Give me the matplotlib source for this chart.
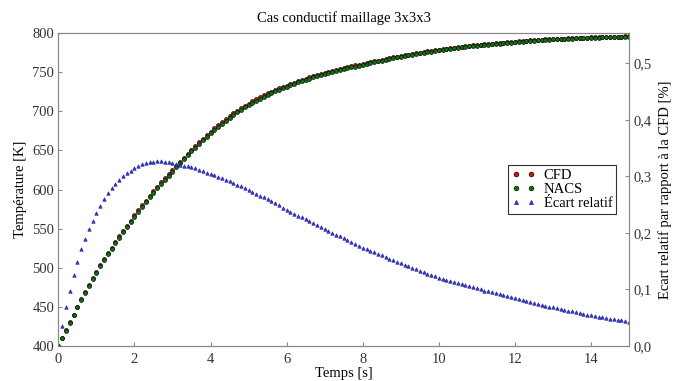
import matplotlib.pyplot as plt
import numpy as np

plt.rcParams['font.family'] = ['Liberation Serif', 'DejaVu Serif']
plt.rcParams['font.size'] = 10.5

# Temps [s], pas de 0,1 s
temps = np.linspace(0, 15, 151)

# Temperature CFD [K]
cfd = [400, 410, 420, 430, 440, 450,
       459.5, 468.5, 477.5, 486.5, 495,
       503, 510.8, 518.5, 525.8, 533,
       540, 546.8, 553.5, 560, 567,
       573.4, 579.7, 585.9, 592, 598,
       603.6, 609.1, 614.5, 619.8, 625,
       630.2, 635.4, 640.6, 645.8, 651,
       655.8, 660.6, 665.2, 669.7, 674,
       678.2, 682.3, 686.3, 690.2, 694,
       697.5, 700.8, 704, 707.1, 710,
       712.8, 715.5, 718.1, 720.6, 723,
       725.2, 727.3, 729.3, 731.2, 733,
       734.9, 736.8, 738.6, 740.3, 742,
       743.5, 744.9, 746.3, 747.7, 749,
       750.3, 751.6, 752.8, 754, 755.2,
       756.4, 757.6, 758.7, 759.8, 761,
       762, 763, 764, 765, 766,
       767, 768, 769, 770, 771,
       771.8, 772.6, 773.4, 774.2, 775,
       775.8, 776.6, 777.4, 778.2, 779,
       779.6, 780.2, 780.8, 781.4, 782,
       782.6, 783.2, 783.8, 784.4, 785,
       785.4, 785.8, 786.2, 786.6, 787,
       787.4, 787.8, 788.2, 788.6, 789,
       789.4, 789.8, 790.2, 790.6, 791,
       791.3, 791.6, 791.9, 792.2, 792.5,
       792.7, 792.9, 793.1, 793.3, 793.5,
       793.7, 793.9, 794.1, 794.3, 794.5,
       794.7, 794.8, 795, 795.1, 795.3,
       795.4, 795.6, 795.7, 795.9, 796]

# Temperature NACS [K]
nacs = [400.0, 409.9, 419.7, 429.6, 439.5, 449.3,
        458.7, 467.6, 476.5, 485.4, 493.8,
        501.8, 509.5, 517.1, 524.3, 531.5,
        538.4, 545.2, 551.8, 558.3, 565.2,
        571.6, 577.8, 584.0, 590.1, 596.1,
        601.6, 607.1, 612.5, 617.8, 623.0,
        628.2, 633.4, 638.6, 643.8, 648.9,
        653.7, 658.5, 663.1, 667.6, 672.0,
        676.2, 680.3, 684.3, 688.2, 692.0,
        695.5, 698.8, 702.0, 705.1, 708.0,
        710.9, 713.6, 716.2, 718.7, 721.1,
        723.4, 725.5, 727.5, 729.4, 731.2,
        733.2, 735.1, 736.9, 738.6, 740.3,
        741.9, 743.3, 744.7, 746.1, 747.4,
        748.8, 750.1, 751.3, 752.5, 753.8,
        755.0, 756.2, 757.3, 758.5, 759.7,
        760.7, 761.7, 762.7, 763.8, 764.8,
        765.8, 766.8, 767.8, 768.9, 769.9,
        770.7, 771.5, 772.3, 773.2, 774.0,
        774.8, 775.6, 776.4, 777.2, 778.1,
        778.7, 779.3, 779.9, 780.5, 781.1,
        781.8, 782.4, 783.0, 783.6, 784.2,
        784.6, 785.0, 785.4, 785.9, 786.3,
        786.7, 787.1, 787.5, 787.9, 788.3,
        788.8, 789.2, 789.6, 790.0, 790.4,
        790.7, 791.0, 791.3, 791.6, 792.0,
        792.2, 792.4, 792.6, 792.8, 793.0,
        793.2, 793.4, 793.7, 793.9, 794.1,
        794.3, 794.4, 794.6, 794.7, 794.9,
        795.0, 795.2, 795.3, 795.5, 795.7]

# Ecart relatif [%]
ecart = [0.0, 0.036, 0.068, 0.098, 0.125, 0.149,
         0.171, 0.189, 0.206, 0.221, 0.235,
         0.248, 0.260, 0.270, 0.279, 0.287,
         0.294, 0.300, 0.305, 0.310, 0.314,
         0.318, 0.321, 0.323, 0.325, 0.326,
         0.3265, 0.3265, 0.326, 0.325, 0.3235,
         0.322, 0.3205, 0.319, 0.3175, 0.316,
         0.314, 0.3115, 0.309, 0.3065, 0.304,
         0.3015, 0.299, 0.2965, 0.2935, 0.291,
         0.288, 0.285, 0.282, 0.279, 0.276,
         0.2725, 0.269, 0.2655, 0.2625, 0.259,
         0.2555, 0.252, 0.2485, 0.2445, 0.241,
         0.2375, 0.234, 0.2305, 0.2275, 0.224,
         0.2205, 0.217, 0.2135, 0.2105, 0.207,
         0.2035, 0.200, 0.1965, 0.1935, 0.190,
         0.187, 0.1835, 0.1805, 0.177, 0.174,
         0.171, 0.168, 0.1655, 0.1625, 0.160,
         0.157, 0.154, 0.1515, 0.1485, 0.146,
         0.143, 0.1405, 0.138, 0.1355, 0.133,
         0.1305, 0.128, 0.1255, 0.1235, 0.121,
         0.119, 0.117, 0.115, 0.113, 0.111,
         0.109, 0.107, 0.1055, 0.1035, 0.102,
         0.100, 0.098, 0.0965, 0.0945, 0.093,
         0.091, 0.0895, 0.0875, 0.086, 0.084,
         0.0825, 0.081, 0.079, 0.0775, 0.076,
         0.0745, 0.073, 0.0715, 0.0695, 0.068,
         0.0665, 0.065, 0.0635, 0.0625, 0.061,
         0.0595, 0.058, 0.0565, 0.0555, 0.054,
         0.053, 0.0515, 0.0505, 0.049, 0.048,
         0.047, 0.046, 0.045, 0.044, 0.043]

xticks = [0, 2, 4, 6, 8, 10, 12, 14]
yticks_T = [400, 450, 500, 550, 600, 650, 700, 750, 800]
yticks_e = [0.0, 0.1, 0.2, 0.3, 0.4, 0.5]

fig = plt.figure(figsize=(6.86, 3.81), dpi=100)
ax = fig.add_axes([0.085, 0.092, 0.832, 0.821])
ax2 = ax.twinx()

l1, = ax.plot(temps, cfd, 'o', color='#c01818', ms=2.8, mec='#200000', mew=0.5, label='CFD')
l2, = ax.plot(temps, nacs, 'o', color='#147014', ms=2.8, mec='#001800', mew=0.5, label='NACS')
l3, = ax2.plot(temps, ecart, '^', color='#3434ff', ms=2.5, mec='#18186a', mew=0.4,
               label='Écart relatif')

ax.set_xlim(0, 15)
ax.set_ylim(400, 800)
ax2.set_ylim(0, 0.553)
ax.set_xticks(xticks)
ax.set_yticks(yticks_T)
ax2.set_yticks(yticks_e)
ax2.set_yticklabels([f'{v:.1f}'.replace('.', ',') for v in yticks_e])

for a in (ax, ax2):
    for s in a.spines.values():
        s.set_color('#888888')
    a.tick_params(direction='in', length=3, color='#888888', labelcolor='#333333', pad=3)
ax.tick_params(axis='x', pad=5)

ax.set_title('Cas conductif maillage 3x3x3', fontsize=10.5, pad=8)
ax.set_xlabel('Temps [s]', labelpad=1)
ax.set_ylabel('Température [K]', labelpad=4)
ax2.set_ylabel('Ecart relatif par rapport à la CFD [%]', labelpad=5)

leg = ax2.legend(handles=[l1, l2, l3], loc='center right', bbox_to_anchor=(0.99, 0.5),
                 numpoints=2, fontsize=10.5, fancybox=False, edgecolor='#333333',
                 handlelength=1.6, handletextpad=0.6, borderpad=0.25, labelspacing=0.05,
                 markerscale=1.2, framealpha=1)
leg.get_frame().set_linewidth(0.8)

fig.savefig('out.png', dpi=100)
